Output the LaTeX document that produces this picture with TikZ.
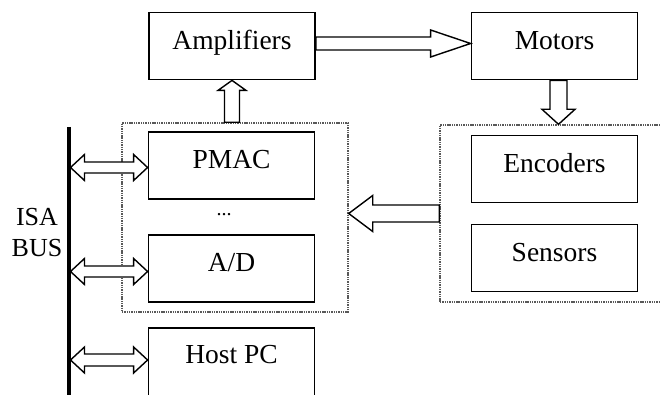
\documentclass[tikz,border=0pt]{standalone}
\usepackage{fontspec}
\setmainfont{Liberation Serif}
\usetikzlibrary{calc}
\newcommand{\singlefat}[5]{%
  \coordinate (hbA) at ($(#2)!#5!(#1)$);
  \draw[fatarrow] ($(#1)!#3!90:(#2)$) -- ($(hbA)!#3!-90:(#1)$) -- ($(hbA)!#4!-90:(#1)$) -- (#2) -- ($(hbA)!#4!90:(#1)$) -- ($(hbA)!#3!90:(#1)$) -- ($(#1)!#3!-90:(#2)$) -- cycle;}
\newcommand{\doublefat}[5]{%
  \coordinate (hbA) at ($(#1)!#5!(#2)$);
  \coordinate (hbB) at ($(#2)!#5!(#1)$);
  \draw[fatarrow] (#1) -- ($(hbA)!#4!90:(#2)$) -- ($(hbA)!#3!90:(#2)$) -- ($(hbB)!#3!-90:(#1)$) -- ($(hbB)!#4!-90:(#1)$) -- (#2) -- ($(hbB)!#4!90:(#1)$) -- ($(hbB)!#3!90:(#1)$) -- ($(hbA)!#3!-90:(#2)$) -- ($(hbA)!#4!-90:(#2)$) -- cycle;}
\tikzset{
  box/.style={draw, line width=1.8pt, minimum width=166pt, minimum height=67pt, inner sep=0pt,
    font=\fontsize{27.5}{30}\selectfont, text height=0.85em, text depth=0.2em},
  dotbox/.style={draw=black!65, line width=1.4pt, dash pattern=on 1.4pt off 0.9pt, inner sep=0pt},
  fatarrow/.style={draw, fill=white, line width=1.4pt, line join=miter},
  bus/.style={line width=3.2pt},
}
\begin{document}
\begin{tikzpicture}[x=1pt,y=-1pt]
\useasboundingbox (0,0) rectangle (660,395);
\clip (0,0) rectangle (660,395);
% dotted groups
\node[dotbox, minimum width=226pt, minimum height=189pt] (ctl) at (235,217.5) {};
\node[dotbox, minimum width=232pt, minimum height=177pt] (sens) at (556,213.5) {};
% boxes
\node[box] (amp) at (232,46) {Amplifiers};
\node[box] (mot) at (554.5,46) {Motors};
\node[box] (pmac) at (231.5,165.5) {PMAC};
\node[box] (ad) at (231.5,268.5) {A/D};
\node[box, minimum height=74pt, anchor=north] (host) at (231.5,327) {\raisebox{5pt}{Host PC}};
\node[box] (enc) at (554.5,169) {Encoders};
\node[box] (sen) at (554.5,258) {Sensors};
\node[inner sep=0pt, font=\fontsize{20}{20}\selectfont] (dots) at (224,214.5) {...};
% bus
\coordinate (bustop) at (69,127);
\coordinate (busbot) at (69,400);
\draw[bus] (bustop) -- (busbot);
\node[inner sep=0pt, align=center, font=\fontsize{26}{31}\selectfont] (isa) at (37,232.5) {ISA\\BUS};
% bus arrows
\coordinate (b1) at ($(bustop |- pmac.west)+(1.5,2)$);
\coordinate (p1) at ($(pmac.west)+(0,2)$);
\coordinate (b2) at ($(bustop |- ad.west)+(1.5,3)$);
\coordinate (p2) at ($(ad.west)+(0,3)$);
\coordinate (b3) at (70.5,360);
\coordinate (p3) at (host.west |- b3);
\doublefat{b1}{p1}{5.5pt}{13pt}{14pt}
\doublefat{b2}{p2}{5.5pt}{13pt}{14pt}
\doublefat{b3}{p3}{6pt}{13pt}{14pt}
% amplifiers -> motors
\coordinate (am1) at ($(amp.east)+(0,-2.5)$);
\coordinate (am2) at ($(mot.west)+(0,-2.5)$);
\singlefat{am1}{am2}{6.5pt}{13.5pt}{40pt}
% controller -> amplifiers
\coordinate (ca1) at (amp.south |- ctl.north);
\singlefat{ca1}{amp.south}{7.5pt}{14pt}{10pt}
% motors -> sensors group
\coordinate (ms1) at ($(mot.south)+(4,0)$);
\coordinate (ms2) at (ms1 |- sens.north);
\singlefat{ms1}{ms2}{8.5pt}{16.5pt}{15pt}
% sensors group -> controller
\coordinate (sc2) at (ctl.east |- sens.west);
\singlefat{sens.west}{sc2}{8.5pt}{18pt}{24pt}
\end{tikzpicture}
\end{document}
